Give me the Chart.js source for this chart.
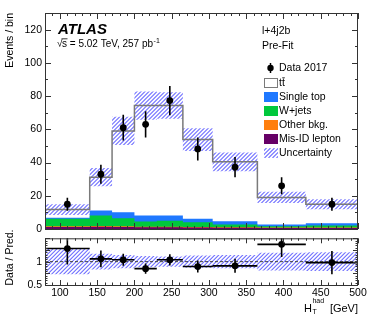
<!DOCTYPE html>
<html>
<head>
<meta charset="utf-8">
<script src="https://cdn.jsdelivr.net/npm/chart.js@4.4.1/dist/chart.umd.min.js"></script>
<style>
  html, body { margin: 0; padding: 0; background: #fff; }
  #wrap { position: relative; width: 374px; height: 318px; overflow: hidden; }
  #main { position: absolute; left: 0; top: 0; }
  #ratio { position: absolute; left: 0; top: 229px; }
</style>
</head>
<body>
<div id="wrap">
  <canvas id="main" width="374" height="240"></canvas>
  <canvas id="ratio" width="374" height="89"></canvas>
</div>
<script>
// H_T^had bins (GeV) and per-bin yields
const binEdges  = [80, 140, 170, 200, 230, 265, 305, 365, 430, 500];
const ttbar     = [4.9, 20.1, 48.9, 66.2, 66.2, 47.7, 35.7, 16.3, 11.4];
const singleTop = [0.7, 3.0, 3.6, 3.6, 3.1, 2.0, 2.0, 1.0, 1.4];
const wJets     = [4.5, 6.3, 4.8, 3.1, 3.6, 2.9, 1.6, 0.8, 1.2];
const otherBkg  = [0.4, 0.5, 0.5, 0.4, 0.4, 0.3, 0.3, 0.3, 0.3];
const misIdLep  = [1.2, 1.3, 1.2, 1.0, 1.0, 0.9, 0.8, 0.6, 0.6];
const predUnc   = [3.2, 5.5, 8.5, 8.5, 8.0, 6.8, 5.6, 3.4, 3.0];
const dataVals  = [14.9, 33.0, 61.0, 63.0, 77.3, 48.2, 37.2, 26.0, 14.9];
const dataErr   = [3.9, 5.7, 7.8, 7.9, 8.8, 6.9, 6.1, 5.1, 3.9];
const ratioVals = [1.28, 1.06, 1.04, 0.85, 1.04, 0.895, 0.91, 1.37, 0.98];
const ratioErr  = [0.34, 0.18, 0.13, 0.11, 0.12, 0.13, 0.15, 0.27, 0.25];
const ratioUnc  = [0.27, 0.17, 0.14, 0.12, 0.11, 0.13, 0.14, 0.19, 0.20];
const yTicksMain  = [0, 20, 40, 60, 80, 100, 120];
const yTicksRatio = [0.5, 0.75, 1, 1.25];
const xTicks      = [100, 150, 200, 250, 300, 350, 400, 450, 500];

const FONT = '"Liberation Sans", Arial, Helvetica, sans-serif';
const COL = {
  single: '#1f78ff', wjets: '#00c83c', other: '#ff7f0e', misid: '#660066',
  mc: '#7a7a7a', frame: '#333', hatch: '#7070ff',
};
Chart.defaults.font.family = FONT;
Chart.defaults.color = '#000';

const centers = binEdges.slice(0, -1).map((e, i) => (e + binEdges[i + 1]) / 2);

// histogram outline: one point per left edge plus the last right edge
function steps(vals) {
  const pts = vals.map((v, i) => ({ x: binEdges[i], y: v }));
  pts.push({ x: binEdges[binEdges.length - 1], y: vals[vals.length - 1] });
  return pts;
}
function stackUp(...layers) {
  return layers[0].map((_, i) => layers.reduce((s, l) => s + l[i], 0));
}

const cumMis = misIdLep;
const cumOther = stackUp(misIdLep, otherBkg);
const cumW = stackUp(misIdLep, otherBkg, wJets);
const cumSingle = stackUp(misIdLep, otherBkg, wJets, singleTop);
const total = stackUp(misIdLep, otherBkg, wJets, singleTop, ttbar);
const uncUp = total.map((v, i) => v + predUnc[i]);
const uncLo = total.map((v, i) => v - predUnc[i]);

const histLine = (data, extra) => Object.assign({
  data, stepped: true, pointRadius: 0, borderWidth: 0, borderColor: 'transparent', fill: false,
}, extra);

// stroke "///" lines over the current clip region (page-anchored so both pads line up)
function strokeHatch(ctx, left, top, right, bottom, yOff) {
  ctx.strokeStyle = COL.hatch;
  ctx.lineWidth = 1.1;
  ctx.beginPath();
  const h = bottom - top;
  const phase = ((left + bottom + yOff) % 4) - 0.5;
  for (let x0 = left - h - phase - 4; x0 < right + 4; x0 += 4) {
    ctx.moveTo(x0, bottom);
    ctx.lineTo(x0 + h, top);
  }
  ctx.stroke();
}

// hatched band between two step datasets (flagged bandUp / bandLo)
function bandHatch(yOff) {
  return {
    id: 'bandHatch',
    beforeDatasetsDraw(chart) {
      const { ctx, chartArea: a, scales: { x, y } } = chart;
      const up = chart.data.datasets.find((d) => d.bandUp);
      const lo = chart.data.datasets.find((d) => d.bandLo);
      ctx.save();
      ctx.beginPath();
      ctx.rect(a.left, a.top, a.right - a.left, a.bottom - a.top);
      ctx.clip();
      ctx.beginPath();
      for (let i = 0; i < binEdges.length - 1; i++) {
        const x0 = x.getPixelForValue(binEdges[i]);
        const x1 = x.getPixelForValue(binEdges[i + 1]);
        const y0 = y.getPixelForValue(up.data[i].y);
        const y1 = y.getPixelForValue(lo.data[i].y);
        ctx.rect(x0, y0, x1 - x0, y1 - y0);
      }
      ctx.clip();
      strokeHatch(ctx, a.left, a.top, a.right, a.bottom, yOff);
      ctx.restore();
    },
  };
}

// vertical (and optional horizontal) error bars
const errorBars = {
  id: 'errorBars',
  afterDatasetsDraw(chart) {
    const { ctx, chartArea: a, scales: { x, y } } = chart;
    chart.data.datasets.forEach((ds) => {
      if (!ds.errY) return;
      ctx.save();
      ctx.beginPath();
      ctx.rect(a.left, a.top, a.right - a.left, a.bottom - a.top);
      ctx.clip();
      ctx.strokeStyle = '#000';
      ctx.lineWidth = 1.6;
      ctx.beginPath();
      ds.data.forEach((p, i) => {
        const px = x.getPixelForValue(p.x);
        const py = y.getPixelForValue(p.y);
        ctx.moveTo(px, y.getPixelForValue(p.y - ds.errY[i]));
        ctx.lineTo(px, y.getPixelForValue(p.y + ds.errY[i]));
        if (ds.errX) {
          ctx.moveTo(x.getPixelForValue(binEdges[i]), py);
          ctx.lineTo(x.getPixelForValue(binEdges[i + 1]), py);
        }
      });
      ctx.stroke();
      ctx.restore();
    });
  },
};

// box around the pad plus inward ROOT-style ticks
function framePlugin(o) {
  return {
    id: 'frame',
    afterDraw(chart) {
      const { ctx, chartArea: a, scales: { x, y } } = chart;
      ctx.save();
      ctx.strokeStyle = COL.frame;
      ctx.lineWidth = 1;
      ctx.beginPath();
      for (let v = 80; v <= 500; v += 10) {
        const px = Math.round(x.getPixelForValue(v)) + 0.5;
        const len = v % 50 === 0 ? o.xMajor : o.xMinor;
        ctx.moveTo(px, a.bottom); ctx.lineTo(px, a.bottom - len);
        ctx.moveTo(px, a.top); ctx.lineTo(px, a.top + len);
      }
      const n = Math.round((o.yMax - o.yMin) / o.yStep);
      for (let k = 0; k <= n; k++) {
        const v = o.yMin + k * o.yStep;
        const py = Math.round(y.getPixelForValue(v)) + 0.5;
        const len = k % o.yEvery === 0 ? o.yMajor : o.yMinor;
        ctx.moveTo(a.left, py); ctx.lineTo(a.left + len, py);
        ctx.moveTo(a.right, py); ctx.lineTo(a.right - len, py);
      }
      ctx.stroke();
      ctx.strokeRect(a.left + 0.5, a.top + 0.5, a.right - a.left - 1, a.bottom - a.top);
      ctx.restore();
    },
  };
}

const legendItems = [
  { text: 'Data 2017', kind: 'marker' },
  { text: 'tt', kind: 'box', fill: '#fff', stroke: COL.mc, bar: true },
  { text: 'Single top', kind: 'box', fill: COL.single },
  { text: 'W+jets', kind: 'box', fill: COL.wjets },
  { text: 'Other bkg.', kind: 'box', fill: COL.other },
  { text: 'Mis-ID lepton', kind: 'box', fill: COL.misid },
  { text: 'Uncertainty', kind: 'hatch' },
];

const mainText = {
  id: 'mainText',
  afterDraw(chart) {
    const { ctx } = chart;
    ctx.save();
    ctx.fillStyle = '#000';
    ctx.strokeStyle = '#000';
    ctx.textBaseline = 'alphabetic';
    ctx.textAlign = 'left';

    ctx.font = `italic bold 15px ${FONT}`;
    ctx.fillText('ATLAS', 58, 34);

    // sqrt(s) line
    ctx.font = `10px ${FONT}`;
    let x = 57;
    const base = 47;
    ctx.fillText('\u221A', x, base);
    x += ctx.measureText('\u221A').width - 0.5;
    const sw = ctx.measureText('s').width;
    ctx.fillText('s', x, base);
    ctx.lineWidth = 0.8;
    ctx.beginPath(); ctx.moveTo(x - 0.5, base - 8.2); ctx.lineTo(x + sw + 0.5, base - 8.2); ctx.stroke();
    x += sw;
    const rest = ' = 5.02 TeV, 257 pb';
    ctx.fillText(rest, x, base);
    x += ctx.measureText(rest).width;
    ctx.font = `7px ${FONT}`;
    ctx.fillText('-1', x + 0.5, base - 4.5);

    ctx.font = `10.5px ${FONT}`;
    ctx.fillText('l+4j2b', 262, 33.5);
    ctx.fillText('Pre-Fit', 262, 48.5);

    // legend
    ctx.textBaseline = 'middle';
    legendItems.forEach((it, i) => {
      const cy = Math.round(68.4 + i * 14.15);
      if (it.kind === 'marker') {
        ctx.lineWidth = 1.5;
        ctx.beginPath(); ctx.moveTo(270.5, cy - 5); ctx.lineTo(270.5, cy + 5); ctx.stroke();
        ctx.beginPath(); ctx.arc(270.5, cy, 3.2, 0, Math.PI * 2); ctx.fill();
      } else if (it.kind === 'hatch') {
        ctx.save();
        ctx.beginPath(); ctx.rect(264, cy - 5, 14, 10); ctx.clip();
        strokeHatch(ctx, 264, cy - 5, 278, cy + 5, 0);
        ctx.restore();
      } else {
        ctx.fillStyle = it.fill;
        ctx.fillRect(264, cy - 5, 14, 10);
        if (it.stroke) {
          ctx.strokeStyle = it.stroke;
          ctx.lineWidth = 1;
          ctx.strokeRect(264.5, cy - 4.5, 13, 9);
          ctx.strokeStyle = '#000';
        }
        ctx.fillStyle = '#000';
      }
      ctx.font = `10.5px ${FONT}`;
      ctx.fillText(it.text, 279, cy + 0.5);
      if (it.bar) {
        const tw = ctx.measureText('t').width;
        ctx.lineWidth = 0.8;
        ctx.beginPath(); ctx.moveTo(279 + tw + 0.3, cy - 5.2); ctx.lineTo(279 + 2 * tw, cy - 5.2); ctx.stroke();
      }
    });

    // y title
    ctx.translate(12.5, 13);
    ctx.rotate(-Math.PI / 2);
    ctx.textAlign = 'right';
    ctx.textBaseline = 'alphabetic';
    ctx.font = `10.5px ${FONT}`;
    ctx.fillText('Events / bin', 0, 0);
    ctx.restore();
  },
};

const ratioText = {
  id: 'ratioText',
  afterDraw(chart) {
    const { ctx } = chart;
    ctx.save();
    ctx.fillStyle = '#000';
    ctx.textBaseline = 'alphabetic';
    // x title: H_T^had [GeV]
    ctx.font = `11px ${FONT}`;
    ctx.textAlign = 'right';
    ctx.fillText('[GeV]', 358, 82.5);
    ctx.textAlign = 'left';
    ctx.fillText('H', 304, 82.5);
    const hx = 304 + ctx.measureText('H').width + 0.5;
    ctx.font = `7px ${FONT}`;
    ctx.fillText('had', hx, 74);
    ctx.fillText('T', hx, 84.5);
    // y title
    ctx.translate(12.5, 28.5);
    ctx.rotate(-Math.PI / 2);
    ctx.textAlign = 'center';
    ctx.font = `10.5px ${FONT}`;
    ctx.fillText('Data / Pred.', 0, 0);
    ctx.restore();
  },
};

const tickFont = { size: 10.5 };

new Chart(document.getElementById('main'), {
  type: 'line',
  data: {
    datasets: [
      { label: 'Data 2017', data: centers.map((x, i) => ({ x, y: dataVals[i] })), showLine: false,
        pointRadius: 3.4, pointBackgroundColor: '#000', pointBorderColor: '#000', pointBorderWidth: 0,
        errY: dataErr, order: 0 },
      histLine(steps(total), { label: 'Total', borderColor: COL.mc, borderWidth: 1.5, order: 1 }),
      histLine(steps(uncUp), { label: 'Uncertainty', bandUp: true, order: 12 }),
      histLine(steps(uncLo), { label: 'unc-low', bandLo: true, order: 11 }),
      histLine(steps(cumSingle), { label: 'Single top', backgroundColor: COL.single, fill: 'start', order: 10 }),
      histLine(steps(cumW), { label: 'W+jets', backgroundColor: COL.wjets, fill: 'start', order: 9 }),
      histLine(steps(cumOther), { label: 'Other bkg.', backgroundColor: COL.other, fill: 'start', order: 8 }),
      histLine(steps(cumMis), { label: 'Mis-ID lepton', backgroundColor: COL.misid, fill: 'start', order: 7 }),
    ],
  },
  options: {
    responsive: false,
    animation: false,
    devicePixelRatio: 1,
    layout: { padding: { top: 13, right: 16, bottom: 11, left: 0 } },
    plugins: { legend: { display: false }, tooltip: { enabled: false }, colors: { enabled: false } },
    scales: {
      x: { type: 'linear', min: 80, max: 500, display: false },
      y: {
        min: 0, max: 130,
        afterFit: (s) => { s.width = 45; },
        afterBuildTicks: (s) => { s.ticks = yTicksMain.map((v) => ({ value: v })); },
        grid: { display: false, drawTicks: false },
        border: { display: false },
        ticks: { padding: 3, font: tickFont, color: '#000' },
      },
    },
  },
  plugins: [bandHatch(0), errorBars, framePlugin({ xMajor: 6, xMinor: 3, yMin: 0, yMax: 130, yStep: 10, yEvery: 2, yMajor: 6, yMinor: 3 }), mainText],
});

new Chart(document.getElementById('ratio'), {
  type: 'line',
  data: {
    datasets: [
      { label: 'Data / Pred.', data: centers.map((x, i) => ({ x, y: ratioVals[i] })), showLine: false,
        pointRadius: 3.4, pointBackgroundColor: '#000', pointBorderColor: '#000', pointBorderWidth: 0,
        errY: ratioErr, errX: true, order: 0 },
      { label: 'unity', data: [{ x: 80, y: 1 }, { x: 500, y: 1 }], borderColor: '#444', borderWidth: 1,
        borderDash: [3, 2], pointRadius: 0, fill: false, order: 5 },
      histLine(steps(ratioUnc.map((u) => 1 + u)), { label: 'band-up', bandUp: true, order: 12 }),
      histLine(steps(ratioUnc.map((u) => 1 - u)), { label: 'band-low', bandLo: true, order: 11 }),
    ],
  },
  options: {
    responsive: false,
    animation: false,
    devicePixelRatio: 1,
    layout: { padding: { top: 0, right: 16, bottom: 0, left: 0 } },
    plugins: { legend: { display: false }, tooltip: { enabled: false }, colors: { enabled: false } },
    scales: {
      x: {
        type: 'linear', min: 80, max: 500,
        afterFit: (s) => { s.height = 33; },
        afterBuildTicks: (s) => { s.ticks = xTicks.map((v) => ({ value: v })); },
        grid: { display: false, drawTicks: false },
        border: { display: false },
        ticks: { padding: 2, maxRotation: 0, autoSkip: false, font: tickFont, color: '#000' },
      },
      y: {
        min: 0.5, max: 1.5,
        afterFit: (s) => { s.width = 45; },
        afterBuildTicks: (s) => { s.ticks = yTicksRatio.map((v) => ({ value: v })); },
        grid: { display: false, drawTicks: false },
        border: { display: false },
        ticks: { padding: 3, font: tickFont, color: '#000', callback: (v) => String(v) },
      },
    },
  },
  plugins: [bandHatch(229), errorBars, framePlugin({ xMajor: 5, xMinor: 2.5, yMin: 0.5, yMax: 1.5, yStep: 0.05, yEvery: 5, yMajor: 5, yMinor: 2.5 }), ratioText],
});
</script>
</body>
</html>
